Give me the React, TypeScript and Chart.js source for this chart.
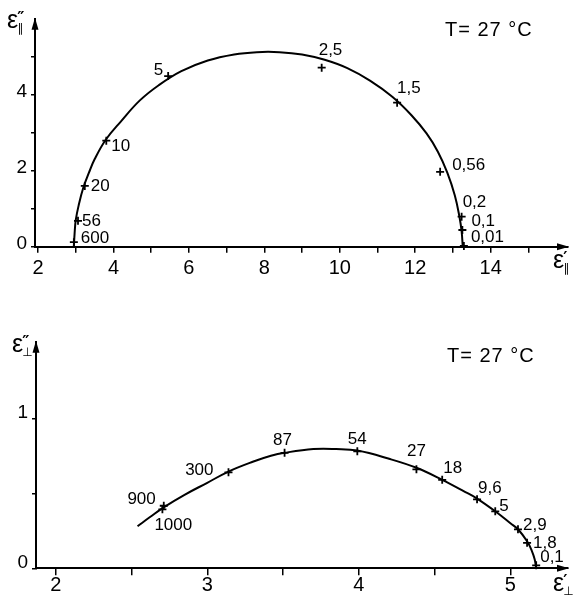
import React, { useEffect, useRef } from "react";
import { Chart, registerables } from "chart.js";
Chart.register(...registerables);

// ---------- Top chart (parallel component) ----------
const topCurveX = [2.95, 2.97, 3.0, 3.08, 3.2, 3.35, 3.5, 3.8, 4.2, 4.7, 5.2, 5.8, 6.5, 7.2, 7.8, 8.4, 9.0, 9.6, 10.2, 10.8, 11.4, 11.9, 12.3, 12.6, 12.85, 13.05, 13.17, 13.23, 13.26];
const topCurveY = [0, 0.35, 0.7, 1.1, 1.55, 1.95, 2.3, 2.82, 3.3, 3.85, 4.25, 4.62, 4.9, 5.06, 5.12, 5.12, 5.06, 4.92, 4.7, 4.37, 3.94, 3.46, 2.98, 2.5, 1.95, 1.35, 0.8, 0.4, 0];
const topMarkX = [2.95, 3.06, 3.24, 3.81, 5.45, 9.52, 11.52, 12.66, 13.23, 13.25, 13.29];
const topMarkY = [0.12, 0.68, 1.6, 2.79, 4.49, 4.71, 3.79, 1.97, 0.79, 0.44, 0.02];
const topMarkLabels = ["600", "56", "20", "10", "5", "2,5", "1,5", "0,56", "0,2", "0,1", "0,01"];
const topXTicks = [2, 3, 4, 5, 6, 7, 8, 9, 10, 11, 12, 13, 14, 15];
const topXLabels = [2, 4, 6, 8, 10, 12, 14];
const topYTicks = [0, 1, 2, 3, 4, 5];
const topYLabels = [0, 2, 4];

// ---------- Bottom chart (perpendicular component) ----------
const botCurveX = [2.54, 2.62, 2.71, 2.85, 3.0, 3.14, 3.3, 3.42, 3.51, 3.7, 3.85, 3.99, 4.2, 4.38, 4.55, 4.7, 4.78, 4.9, 5.0, 5.05, 5.11, 5.14, 5.16, 5.17];
const botCurveY = [0.28, 0.34, 0.405, 0.49, 0.57, 0.645, 0.71, 0.75, 0.77, 0.795, 0.795, 0.785, 0.73, 0.67, 0.59, 0.51, 0.465, 0.38, 0.3, 0.26, 0.18, 0.12, 0.06, 0];
const botMarkX = [2.713, 2.704, 3.14, 3.51, 3.99, 4.38, 4.55, 4.78, 4.9, 5.05, 5.11, 5.17];
const botMarkY = [0.417, 0.393, 0.64, 0.77, 0.78, 0.66, 0.59, 0.46, 0.38, 0.26, 0.17, 0.02];
const botMarkLabels = ["900", "1000", "300", "87", "54", "27", "18", "9,6", "5", "2,9", "1,8", "0,1"];
const botXTicks = [2, 2.5, 3, 3.5, 4, 4.5, 5];
const botXLabels = [2, 3, 4, 5];
const botYTicks = [0, 0.5, 1];
const botYLabels = [0, 1];

const tempText = "T= 27 °C";

// label placement (pixel offsets from marker, text alignment) — styling only
const topLabelPlace: [number, number, CanvasTextAlign][] = [
  [7, -4, "left"], [4, 0, "left"], [6, 0, "left"], [5, 6, "left"], [-5, -6, "right"],
  [-3, -17, "left"], [0, -14, "left"], [12, -7, "left"], [1, -14, "left"], [9, -9, "left"], [7, -9, "left"],
];
const botLabelPlace: [number, number, CanvasTextAlign][] = [
  [-8, -6, "right"], [-8, 16, "left"], [-15, -2, "right"], [-2, -12, "center"], [0, -12, "center"],
  [0, -18, "center"], [1, -11, "left"], [1, -11, "left"], [4, -5, "left"], [5, -4, "left"], [6, 1, "left"], [4, -8, "left"],
];

const FONT = '"Liberation Sans", Arial, sans-serif';
const SYM = '"DejaVu Sans", sans-serif';

type TitleSpec = { x: number; y: number; sup: string; sub: string };

function makePlugin(opts: {
  labels: string[]; xs: number[]; ys: number[]; place: [number, number, CanvasTextAlign][];
  tx: number; ty: number; yTitle: TitleSpec; xTitle: TitleSpec;
}) {
  return {
    id: "annot",
    afterDraw(chart: any) {
      const ctx: any = chart.ctx;
      const { left, right, top, bottom } = chart.chartArea;
      const sx = chart.scales.x, sy = chart.scales.y;
      ctx.save();
      ctx.fillStyle = "#000";
      // arrowheads
      ctx.beginPath();
      ctx.moveTo(left, top - 1);
      ctx.lineTo(left - 3.5, top + 11);
      ctx.lineTo(left + 3.5, top + 11);
      ctx.closePath();
      ctx.fill();
      ctx.beginPath();
      ctx.moveTo(right + 1, bottom);
      ctx.lineTo(right - 11, bottom - 3.5);
      ctx.lineTo(right - 11, bottom + 3.5);
      ctx.closePath();
      ctx.fill();
      // point labels
      ctx.font = `17px ${FONT}`;
      ctx.textBaseline = "middle";
      opts.labels.forEach((lab, i) => {
        const px = sx.getPixelForValue(opts.xs[i]);
        const py = sy.getPixelForValue(opts.ys[i]);
        const [dx, dy, al] = opts.place[i];
        ctx.textAlign = al;
        ctx.fillText(lab, px + dx, py + dy);
      });
      // temperature
      ctx.textBaseline = "alphabetic";
      ctx.textAlign = "left";
      ctx.font = `20px ${FONT}`;
      ctx.letterSpacing = "1px";
      ctx.fillText(tempText, opts.tx, opts.ty);
      ctx.letterSpacing = "0px";
      // axis titles
      const drawTitle = (t: TitleSpec) => {
        ctx.font = `25px ${FONT}`;
        ctx.fillText("ε", t.x, t.y);
        const w = ctx.measureText("ε").width;
        ctx.font = `bold 16px ${SYM}`;
        ctx.fillText(t.sup, t.x + w - 1, t.y - 5);
        ctx.font = `12px ${SYM}`;
        ctx.fillText(t.sub, t.x + w - 1, t.y + 4);
      };
      drawTitle(opts.yTitle);
      drawTitle(opts.xTitle);
      ctx.restore();
    },
  };
}

function axisCommon(tickLength: number) {
  return {
    grid: { display: true, drawOnChartArea: false, drawTicks: true, tickLength, color: "#000", lineWidth: 1.5 },
    border: { display: true, color: "#000", width: 2 },
  };
}

function buildConfig(p: {
  curveX: number[]; curveY: number[]; markX: number[]; markY: number[];
  xMin: number; xMax: number; yMin: number; yMax: number;
  xTicks: number[]; xLabels: number[]; yTicks: number[]; yLabels: number[];
  yWidth: number; xHeight: number; padTop: number; xPad: number; xTickLen: number; yLabelOffset: number;
  plugin: any;
}): any {
  return {
    type: "line",
    data: {
      datasets: [
        {
          data: p.curveX.map((x, i) => ({ x, y: p.curveY[i] })),
          borderColor: "#000",
          borderWidth: 2,
          pointRadius: 0,
          tension: 0.4,
          fill: false,
        },
        {
          data: p.markX.map((x, i) => ({ x, y: p.markY[i] })),
          showLine: false,
          pointStyle: "cross",
          pointRadius: 4,
          pointBorderWidth: 1.8,
          pointBorderColor: "#000",
          borderColor: "#000",
          clip: false,
        },
      ],
    },
    options: {
      responsive: false,
      animation: false,
      events: [],
      layout: { padding: { top: p.padTop, right: 8, left: 0, bottom: 0 } },
      plugins: { legend: { display: false }, title: { display: false }, tooltip: { enabled: false } },
      scales: {
        x: {
          type: "linear",
          min: p.xMin,
          max: p.xMax,
          afterBuildTicks: (s: any) => { s.ticks = p.xTicks.map((v) => ({ value: v })); },
          afterFit: (s: any) => { s.height = p.xHeight; },
          ...axisCommon(p.xTickLen),
          ticks: {
            autoSkip: false, maxRotation: 0, padding: p.xPad, color: "#000",
            font: { family: FONT, size: 20, lineHeight: 1 },
            callback: (v: number) => (p.xLabels.includes(v) ? String(v) : ""),
          },
        },
        y: {
          type: "linear",
          min: p.yMin,
          max: p.yMax,
          afterBuildTicks: (s: any) => { s.ticks = p.yTicks.map((v) => ({ value: v })); },
          afterFit: (s: any) => { s.width = p.yWidth; },
          ...axisCommon(4),
          ticks: {
            autoSkip: false, padding: 4, color: "#000", labelOffset: p.yLabelOffset,
            font: { family: FONT, size: 19, lineHeight: 1 },
            callback: (v: number) => (p.yLabels.includes(v) ? String(v) : ""),
          },
        },
      },
    },
    plugins: [p.plugin],
  };
}

export default function App() {
  const topRef = useRef<HTMLCanvasElement>(null);
  const botRef = useRef<HTMLCanvasElement>(null);

  useEffect(() => {
    const topPlugin = makePlugin({
      labels: topMarkLabels, xs: topMarkX, ys: topMarkY, place: topLabelPlace,
      tx: 445, ty: 36,
      yTitle: { x: 7, y: 28, sup: "″", sub: "∥" },
      xTitle: { x: 553, y: 268, sup: "′", sub: "∥" },
    });
    const botPlugin = makePlugin({
      labels: botMarkLabels, xs: botMarkX, ys: botMarkY, place: botLabelPlace,
      tx: 447, ty: 72,
      yTitle: { x: 12, y: 62, sup: "″", sub: "⊥" },
      xTitle: { x: 553, y: 301, sup: "′", sub: "⊥" },
    });
    const top = new Chart(topRef.current!, buildConfig({
      curveX: topCurveX, curveY: topCurveY, markX: topMarkX, markY: topMarkY,
      xMin: 1.92, xMax: 16.05, yMin: 0, yMax: 6,
      xTicks: topXTicks, xLabels: topXLabels, yTicks: topYTicks, yLabels: topYLabels,
      yWidth: 35, xHeight: 43.3, padTop: 18.7, xPad: 6, xTickLen: 6, yLabelOffset: -3,
      plugin: topPlugin,
    }));
    const bot = new Chart(botRef.current!, buildConfig({
      curveX: botCurveX, curveY: botCurveY, markX: botMarkX, markY: botMarkY,
      xMin: 1.87, xMax: 5.38, yMin: 0, yMax: 1.51,
      xTicks: botXTicks, xLabels: botXLabels, yTicks: botYTicks, yLabels: botYLabels,
      yWidth: 36, xHeight: 26.7, padTop: 51.8, xPad: 0.5, xTickLen: 7, yLabelOffset: -6,
      plugin: botPlugin,
    }));
    return () => { top.destroy(); bot.destroy(); };
  }, []);

  return (
    <div style={{ position: "absolute", left: 0, top: 0, width: 576, height: 595, background: "#fff" }}>
      <canvas ref={topRef} width={576} height={290} style={{ display: "block" }} />
      <canvas ref={botRef} width={576} height={305} style={{ display: "block" }} />
    </div>
  );
}
